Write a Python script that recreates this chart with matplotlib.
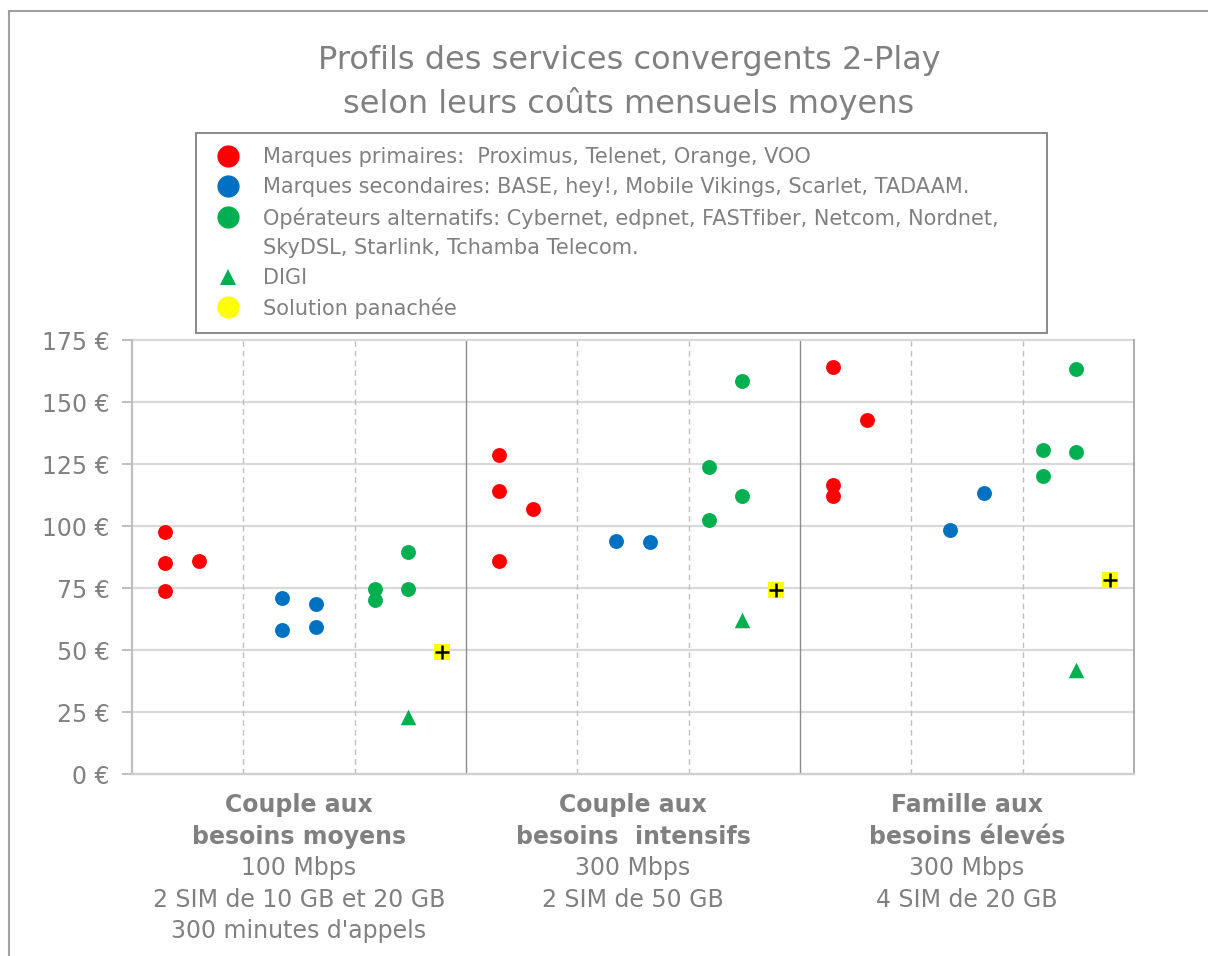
import matplotlib
matplotlib.use("Agg")
import matplotlib.pyplot as plt
from matplotlib.patches import Rectangle
from matplotlib.lines import Line2D

###########################################
# Data
###########################################

groups = [["Couple aux", "besoins moyens"],
          ["Couple aux", "besoins  intensifs"],
          ["Famille aux", "besoins élevés"]]
specs = [["100 Mbps", "2 SIM de 10 GB et 20 GB", "300 minutes d'appels"],
         ["300 Mbps", "2 SIM de 50 GB"],
         ["300 Mbps", "4 SIM de 20 GB"]]

# x offsets of each column inside a group (a group is 3 units wide)
x_prim = [0.3, 0.6]
x_sec = [1.35, 1.65]
x_alt = [2.18, 2.48]
x_digi = 2.48
x_mix = 2.78

# monthly costs (EUR), per group, per column
prim_col1 = [[97.7, 85.2, 74.0], [128.8, 114.2, 86.1], [164.2, 116.7, 112.3]]
prim_col2 = [[86.1], [107.0], [143.1]]
sec_col1 = [[71.0, 58.0], [94.2], [98.3]]
sec_col2 = [[68.7, 59.2], [93.7], [113.6]]
alt_col1 = [[74.8, 70.3], [124.1, 102.7], [130.7, 120.1]]
alt_col2 = [[89.8, 74.8], [158.6, 112.2], [163.3, 130.0]]
digi = [23.0, 62.0, 42.0]
panachee = [49.3, 74.1, 78.2]

yticks = [0, 25, 50, 75, 100, 125, 150, 175]

legend_labels = ["Marques primaires:  Proximus, Telenet, Orange, VOO",
                 "Marques secondaires: BASE, hey!, Mobile Vikings, Scarlet, TADAAM.",
                 "Opérateurs alternatifs: Cybernet, edpnet, FASTfiber, Netcom, Nordnet,\nSkyDSL, Starlink, Tchamba Telecom.",
                 "DIGI",
                 "Solution panachée"]

RED = "#FF0000"
BLUE = "#0070C0"
GREEN = "#00B050"
YELLOW = "#FFFF00"
GREY = "#808080"

W, H = 1208, 956
fig = plt.figure(figsize=(W / 100, H / 100), dpi=100)
plt.rcParams['font.family'] = ['DejaVu Sans']

def fx(px):
    return px / W

def fy(py):
    return 1 - py / H

# outer frame of the chart
fig.add_artist(Rectangle((fx(9), -0.1), 1.2, fy(11) + 0.1, transform=fig.transFigure,
                         fill=False, edgecolor="#A0A0A0", lw=1.5, clip_on=False))

ax = fig.add_axes([fx(132), fy(774), fx(1134 - 132), (774 - 340.5) / H])
ax.set_xlim(0, 9)
ax.set_ylim(0, 175)

# grid and separators
ax.set_yticks(yticks)
ax.set_yticklabels([f"{v} €" for v in yticks])
ax.yaxis.grid(True, color="#D9D9D9", lw=1.6)
for gl in ax.yaxis.get_gridlines():
    gl.set_clip_on(False)
ax.set_axisbelow(True)
ax.set_xticks([])
ax.tick_params(axis="y", length=7, width=1.4, color="#BFBFBF", labelcolor=GREY,
               labelsize=17, pad=9)
for x in [1, 2, 4, 5, 7, 8]:
    ax.axvline(x, color="#BFBFBF", lw=1, ls=(0, (4, 3)), zorder=1)
for x in [3, 6]:
    ax.axvline(x, color="#8C8C8C", lw=1, zorder=1)
ax.spines["top"].set_visible(False)
ax.spines["left"].set_color("#BFBFBF")
ax.spines["left"].set_linewidth(1.6)
ax.spines["bottom"].set_color("#D0D0D0")
ax.spines["bottom"].set_linewidth(1.6)
ax.spines["right"].set_color("#A6A6A6")
ax.spines["right"].set_linewidth(1.3)

# scatter points
for g in range(3):
    base = 3 * g
    for col, xo, c in [(prim_col1, x_prim[0], RED), (prim_col2, x_prim[1], RED),
                       (sec_col1, x_sec[0], BLUE), (sec_col2, x_sec[1], BLUE),
                       (alt_col1, x_alt[0], GREEN), (alt_col2, x_alt[1], GREEN)]:
        vals = col[g]
        ax.scatter([base + xo] * len(vals), vals, s=115, color=c, lw=0, zorder=3)
    ax.scatter([base + x_digi], [digi[g]], s=125, marker="^", color=GREEN, lw=0, zorder=3)
    ax.scatter([base + x_mix], [panachee[g]], s=120, marker="s", color=YELLOW, lw=0, zorder=3)
    ax.scatter([base + x_mix], [panachee[g]], s=110, marker="+", color="black", lw=1.8, zorder=4)

# category labels under the axis
rows = [805, 837, 868, 900, 931]
for g in range(3):
    cx = fx(132 + (3 * g + 1.5) * (1134 - 132) / 9)
    lines = groups[g] + specs[g]
    for i, line in enumerate(lines):
        fig.text(cx, fy(rows[i]), line, ha="center", va="center", fontsize=17,
                 color=GREY, fontweight="bold" if i < 2 else "normal")

# title
fig.text(fx(629), fy(60), "Profils des services convergents 2-Play", ha="center",
         va="center", fontsize=23, color=GREY)
fig.text(fx(629), fy(103), "selon leurs coûts mensuels moyens", ha="center",
         va="center", fontsize=23, color=GREY)

# legend box
fig.add_artist(Rectangle((fx(196), fy(333)), fx(1047 - 196), (333 - 133) / H,
                         transform=fig.transFigure, fill=False, edgecolor=GREY, lw=1.3))
leg_rows = [156, 186, 217, 277, 307]
leg_markers = [("o", RED, 16), ("o", BLUE, 16), ("o", GREEN, 16), ("^", GREEN, 12), ("o", YELLOW, 16)]
for row, (m, c, ms), label in zip(leg_rows, leg_markers, legend_labels):
    fig.add_artist(Line2D([fx(228)], [fy(row)], transform=fig.transFigure, marker=m,
                          markersize=ms, color=c, markeredgewidth=0, ls="none"))
    for i, part in enumerate(label.split("\n")):
        fig.text(fx(263), fy(row - 1 + 30 * i), part, ha="left", va="center_baseline",
                 fontsize=15, color=GREY)

fig.savefig("out.png", dpi=100)
